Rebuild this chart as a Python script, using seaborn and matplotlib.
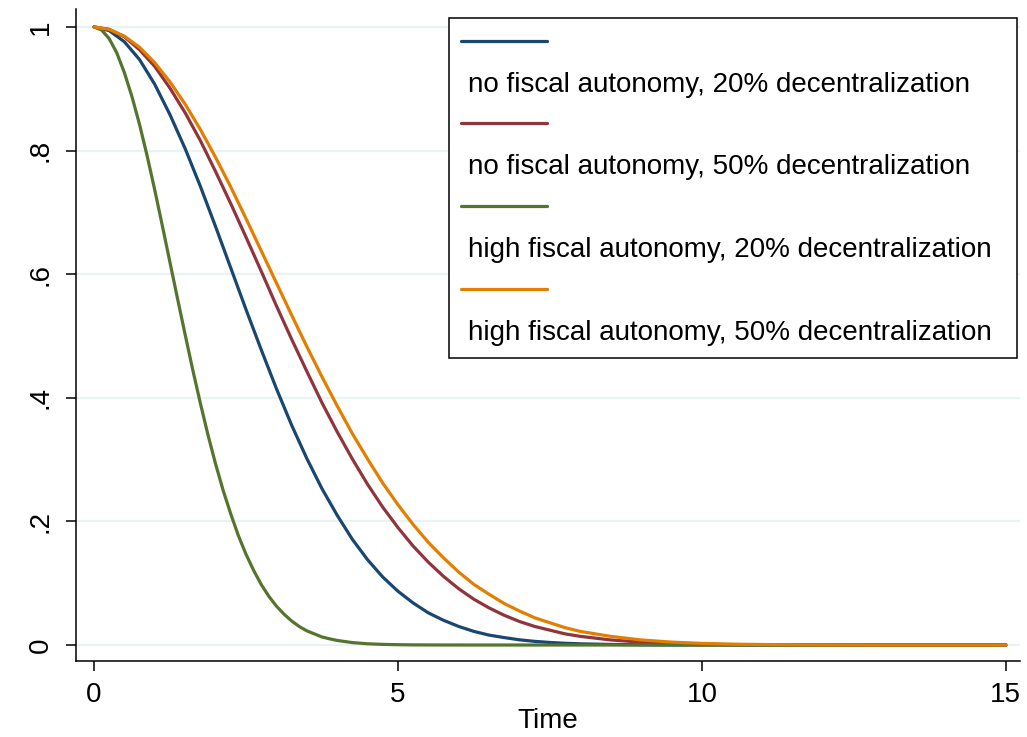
import pandas as pd
import matplotlib.pyplot as plt
import seaborn as sns
from matplotlib.lines import Line2D

# survival curves
time = [0, 0.25, 0.5, 0.75, 1, 1.25, 1.5, 1.75, 2, 2.25, 2.5, 2.75, 3, 3.25, 3.5, 3.75,
        4, 4.25, 4.5, 4.75, 5, 5.25, 5.5, 5.75, 6, 6.25, 6.5, 6.75, 7, 7.25, 7.5, 7.75,
        8, 8.5, 9, 9.5, 10, 10.5, 11, 11.5, 12, 13, 14, 15]

no_fiscal_20 = [1, 0.994, 0.976, 0.947, 0.907, 0.858, 0.803, 0.742, 0.677, 0.610, 0.543,
                0.478, 0.415, 0.356, 0.302, 0.253, 0.210, 0.171, 0.138, 0.110, 0.087,
                0.068, 0.052, 0.040, 0.030, 0.022, 0.016, 0.012, 0.0084, 0.0059, 0.0041,
                0.0028, 0.0019, 0.0009, 0.0004, 0.0001, 0.0001, 0, 0, 0, 0, 0, 0, 0]

no_fiscal_50 = [1, 0.996, 0.984, 0.963, 0.936, 0.901, 0.861, 0.816, 0.766, 0.714, 0.660,
                0.605, 0.549, 0.495, 0.443, 0.392, 0.345, 0.301, 0.260, 0.223, 0.190,
                0.160, 0.134, 0.111, 0.091, 0.074, 0.060, 0.048, 0.038, 0.030, 0.024,
                0.018, 0.014, 0.0082, 0.0046, 0.0025, 0.0013, 0.0007, 0.0003, 0.0002,
                0.0001, 0, 0, 0]

high_fiscal_50 = [1, 0.996, 0.985, 0.967, 0.942, 0.911, 0.875, 0.834, 0.789, 0.741, 0.690,
                  0.638, 0.586, 0.534, 0.483, 0.434, 0.387, 0.342, 0.301, 0.262, 0.227,
                  0.195, 0.166, 0.141, 0.118, 0.098, 0.082, 0.067, 0.055, 0.044, 0.036,
                  0.028, 0.022, 0.014, 0.0082, 0.0047, 0.0026, 0.0014, 0.0008, 0.0004,
                  0.0002, 0, 0, 0]

# the steep green curve is read more finely
time_green = [0, 0.125, 0.25, 0.375, 0.5, 0.625, 0.75, 0.875, 1, 1.125, 1.25, 1.375, 1.5,
              1.625, 1.75, 1.875, 2, 2.125, 2.25, 2.375, 2.5, 2.625, 2.75, 2.875, 3, 3.125,
              3.25, 3.375, 3.5, 3.625, 3.75, 3.875, 4, 4.25, 4.5, 4.75, 5, 5.25, 5.5, 6,
              8, 10, 12, 15]

high_fiscal_20 = [1, 0.995, 0.981, 0.958, 0.926, 0.887, 0.842, 0.791, 0.736, 0.678, 0.619,
                  0.560, 0.502, 0.445, 0.391, 0.340, 0.293, 0.250, 0.212, 0.177, 0.147,
                  0.121, 0.098, 0.079, 0.063, 0.050, 0.039, 0.030, 0.023, 0.018, 0.013,
                  0.010, 0.0074, 0.0039, 0.0020, 0.0010, 0.0005, 0.0002, 0.0001, 0,
                  0, 0, 0, 0]

groups = ['no fiscal autonomy, 20% decentralization',
          'no fiscal autonomy, 50% decentralization',
          'high fiscal autonomy, 20% decentralization',
          'high fiscal autonomy, 50% decentralization']
colors = ['#1a476f', '#90353b', '#55752f', '#e37e00']

yticks = [0, 0.2, 0.4, 0.6, 0.8, 1]
ytick_labels = ['0', '.2', '.4', '.6', '.8', '1']
xticks = [0, 5, 10, 15]

df = pd.concat([
    pd.DataFrame({'Time': time, 'survival': no_fiscal_20, 'group': groups[0]}),
    pd.DataFrame({'Time': time, 'survival': no_fiscal_50, 'group': groups[1]}),
    pd.DataFrame({'Time': time_green, 'survival': high_fiscal_20, 'group': groups[2]}),
    pd.DataFrame({'Time': time, 'survival': high_fiscal_50, 'group': groups[3]}),
], ignore_index=True)

sns.set_style('white')
plt.rcParams['font.family'] = ['Liberation Sans', 'DejaVu Sans']
plt.rcParams['text.color'] = 'black'
plt.rcParams['axes.labelcolor'] = 'black'
plt.rcParams['xtick.color'] = 'black'
plt.rcParams['ytick.color'] = 'black'

fig = plt.figure(figsize=(10.27, 7.37), dpi=100)
ax = fig.add_axes([0.074, 0.1031, 0.919, 0.8847])

sns.lineplot(data=df, x='Time', y='survival', hue='group', hue_order=groups,
             palette=colors, linewidth=2.3, errorbar=None, legend=False, ax=ax)

ax.set_xlim(-0.296, 15.23)
ax.set_ylim(-0.0259, 1.029)
ax.set_xticks(xticks)
ax.set_xticklabels([str(x) for x in xticks])
ax.set_yticks(yticks)
ax.set_yticklabels(ytick_labels)
ax.yaxis.grid(True, color='#eaf2f3', linewidth=1.6)
ax.xaxis.grid(False)
ax.set_axisbelow(True)

sns.despine(ax=ax)
for side in ['left', 'bottom']:
    ax.spines[side].set_color('black')
    ax.spines[side].set_linewidth(1.1)

ax.tick_params(axis='both', bottom=True, left=True, length=7, width=1.1,
               color='black', labelcolor='black', labelsize=20, direction='out')
ax.tick_params(axis='y', pad=9)
ax.tick_params(axis='x', pad=8)
for lbl in ax.get_yticklabels():
    lbl.set_rotation(90)
    lbl.set_va('center')

ax.set_xlabel('Time', fontsize=20, labelpad=0, color='black')
ax.set_ylabel('')

# Stata-style legend: key line on one row, its label on the row below
handles = []
labels = []
for g, c in zip(groups, colors):
    handles.append(Line2D([], [], color=c, linewidth=2.3))
    labels.append(' ')
    handles.append(Line2D([], [], color='none'))
    labels.append(g)

leg = ax.legend(handles, labels, loc='upper left', bbox_to_anchor=(0.395, 0.5, 0.6017, 0.486),
                mode='expand', borderaxespad=0, fontsize=20, handlelength=3.1,
                handletextpad=-2.85, labelspacing=0.55, borderpad=0.45,
                fancybox=False, framealpha=1, edgecolor='black', labelcolor='black')
leg.get_frame().set_linewidth(1.1)

plt.savefig('out.png', dpi=100)
